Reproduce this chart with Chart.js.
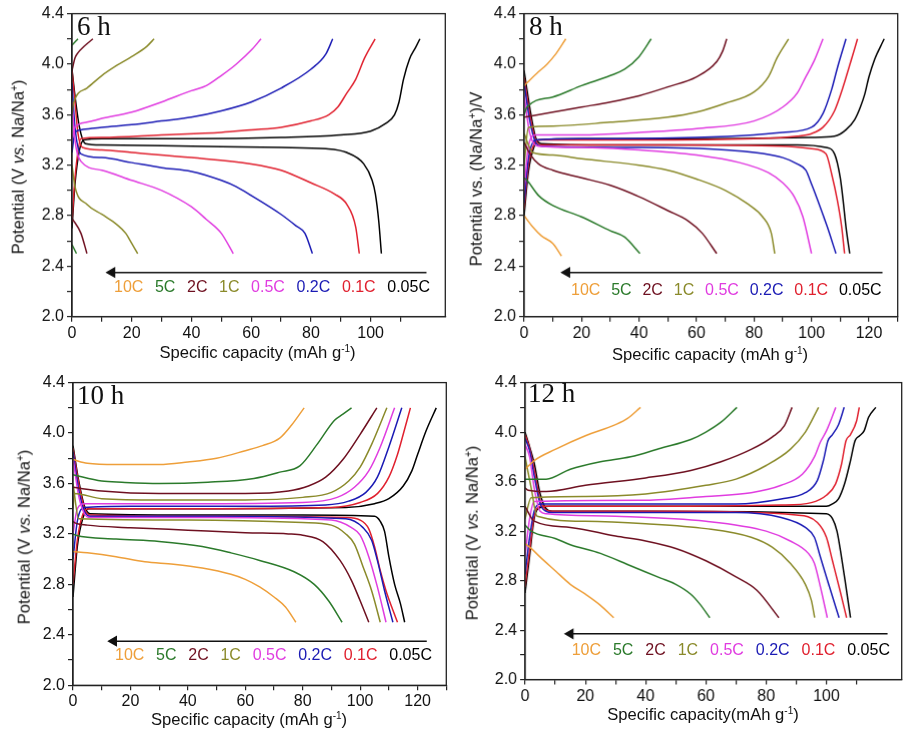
<!DOCTYPE html>
<html><head><meta charset="utf-8">
<script src="https://cdn.jsdelivr.net/npm/chart.js@4.4.1/dist/chart.umd.min.js"></script>
<style>
body{margin:0;background:#fff;width:909px;height:737px;position:relative;overflow:hidden;font-family:'Liberation Sans',Arial,sans-serif;color:#111;}
.box{position:absolute;}
.lbl{position:absolute;font-family:'Liberation Serif','Times New Roman',serif;font-size:27px;line-height:1;color:#111;white-space:nowrap;}
.xt,.yt{position:absolute;font-size:16.6px;line-height:1;white-space:nowrap;color:#111;}
.xt{transform:translate(-50%,-50%);}
.yt{transform:translate(-50%,-50%) rotate(-90deg);}
.leg{position:absolute;display:flex;justify-content:space-between;font-size:16px;line-height:1;transform:translateY(-50%);white-space:nowrap;}
sup{font-size:10px;line-height:0;vertical-align:0.6em;}
</style></head>
<body>
<script>
// ---------------- categories / styles ----------------
const rates = ['10C','5C','2C','1C','0.5C','0.2C','0.1C','0.05C'];
const rateColors = ['#EE9F3A','#2B7A2B','#6E1020','#8A8A2A','#E03CE0','#1A1AB4','#E0202E','#000000'];
const yTicks = [2.0,2.4,2.8,3.2,3.6,4.0,4.4];
const xTicks = [0,20,40,60,80,100,120];

// ---------------- 6 h : charge [capacity, potential] ----------------
const h6c_10C = [];
const h6c_5C = [[0,4.15],[2,4.2]];
const h6c_2C = [[0,3.95],[1,4.05],[2,4.09],[4,4.14],[7,4.2]];
const h6c_1C = [[0,3.6],[0.5,3.69],[5,3.81],[10,3.91],[15,3.99],[20,4.06],[25,4.14],[27.5,4.2]];
const h6c_05C = [[0,3.4],[1,3.5],[5,3.54],[10,3.57],[20,3.62],[30,3.70],[40,3.79],[45,3.83],[50,3.91],[55,4.0],[60,4.11],[63.3,4.2]];
const h6c_02C = [[0,3.3],[1,3.46],[3,3.48],[10,3.50],[20,3.52],[30,3.55],[40,3.58],[50,3.63],[60,3.70],[70,3.81],[80,3.96],[85,4.08],[87.3,4.2]];
const h6c_01C = [[0,2.75],[1,3.1],[3,3.41],[10,3.42],[30,3.44],[50,3.46],[60,3.48],[70,3.50],[80,3.55],[86,3.6],[89,3.66],[92,3.77],[95,3.88],[98,4.05],[101.5,4.2]];
const h6c_005C = [[0,2.7],[1,3.05],[2.5,3.32],[4,3.40],[10,3.41],[40,3.41],[70,3.42],[90,3.44],[100,3.47],[105,3.53],[108,3.60],[109.5,3.70],[111,3.88],[113,4.04],[115,4.13],[116.5,4.2]];
// 6 h : discharge
const h6d_10C = [];
const h6d_5C = [[0,2.57],[1.5,2.5]];
const h6d_2C = [[0,2.78],[3,2.66],[5,2.5]];
const h6d_1C = [[0,3.2],[1,3.03],[5,2.89],[10,2.81],[15,2.73],[18,2.66],[20,2.58],[22,2.5]];
const h6d_05C = [[0,3.7],[1,3.4],[3,3.23],[10,3.16],[20,3.08],[30,3.0],[40,2.87],[45,2.77],[50,2.66],[54,2.5]];
const h6d_02C = [[0,3.85],[1,3.5],[3,3.29],[10,3.26],[20,3.22],[30,3.18],[40,3.15],[50,3.08],[55,3.03],[60,2.96],[70,2.81],[75,2.72],[78,2.66],[80.5,2.5]];
const h6d_01C = [[0,3.95],[1,3.7],[2,3.45],[3.5,3.34],[10,3.32],[20,3.30],[40,3.26],[60,3.21],[70,3.16],[80,3.06],[88,2.97],[92,2.89],[95,2.71],[96.2,2.5]];
const h6d_005C = [[0,3.96],[1,3.75],[2.5,3.5],[4.5,3.37],[10,3.36],[40,3.35],[70,3.34],[85,3.33],[92,3.30],[97.7,3.21],[100.5,3.08],[101.6,2.97],[102.7,2.76],[103.6,2.5]];

// ---------------- 8 h ----------------
const h8c_10C = [[0,3.83],[5,3.94],[8,4.0],[11,4.08],[14.5,4.2]];
const h8c_5C = [[0,3.6],[1,3.66],[10,3.74],[20,3.83],[30,3.91],[35,3.96],[40,4.06],[44.2,4.2]];
const h8c_2C = [[0,3.58],[10,3.62],[20,3.66],[30,3.70],[40,3.75],[50,3.82],[60,3.9],[67,4.02],[69,4.1],[70.5,4.2]];
const h8c_1C = [[0,3.2],[1.5,3.5],[10,3.51],[30,3.54],[50,3.58],[60,3.62],[70,3.69],[80,3.78],[85,3.9],[88,4.05],[92,4.2]];
const h8c_05C = [[0,3.0],[1.5,3.35],[4,3.44],[20,3.44],[40,3.46],[60,3.49],[80,3.55],[90,3.66],[95,3.77],[98,3.9],[101,4.03],[104,4.2]];
const h8c_02C = [[0,2.9],[1.5,3.25],[4,3.40],[20,3.41],[60,3.42],[80,3.44],[90,3.46],[100,3.5],[104,3.61],[107,3.8],[109,3.97],[112,4.2]];
const h8c_01C = [[0,2.85],[1.5,3.2],[3.5,3.37],[5,3.40],[40,3.40],[80,3.41],[95,3.43],[100,3.45],[104,3.5],[108,3.63],[111,3.82],[113,3.97],[116,4.2]];
const h8c_005C = [[0,2.8],[1.5,3.15],[3.5,3.35],[5,3.40],[20,3.41],[60,3.41],[100,3.42],[108,3.43],[112,3.48],[115,3.56],[117,3.66],[118.5,3.76],[120,3.9],[122,4.04],[124,4.14],[125.3,4.2]];
const h8d_10C = [[0,2.8],[3,2.71],[6,2.64],[10,2.58],[13,2.48]];
const h8d_5C = [[0,3.1],[1,3.08],[5,2.96],[10,2.88],[20,2.79],[30,2.68],[35,2.63],[40.3,2.5]];
const h8d_2C = [[0,3.38],[2,3.29],[5,3.21],[10,3.16],[20,3.10],[30,3.04],[40,2.95],[50,2.84],[57,2.76],[62,2.66],[67,2.5]];
const h8d_1C = [[0,3.45],[3,3.30],[10,3.28],[20,3.25],[40,3.20],[50,3.16],[60,3.09],[70,3.0],[78,2.89],[83,2.79],[86,2.66],[87.2,2.5]];
const h8d_05C = [[0,3.75],[2,3.45],[5,3.35],[20,3.34],[40,3.32],[60,3.28],[75,3.22],[85,3.14],[90,3.06],[94,2.95],[97,2.79],[100,2.5]];
const h8d_02C = [[0,3.85],[2,3.55],[4,3.38],[6,3.35],[40,3.34],[70,3.32],[90,3.26],[95,3.21],[98,3.16],[100,3.05],[103,2.87],[105.5,2.71],[108.5,2.5]];
const h8d_01C = [[0,3.9],[2,3.6],[4,3.4],[6,3.36],[50,3.36],[90,3.35],[100,3.33],[105,3.29],[107,3.13],[109,2.92],[110.5,2.71],[111.5,2.5]];
const h8d_005C = [[0,3.95],[2,3.65],[4,3.42],[6,3.37],[30,3.36],[95,3.36],[105,3.34],[108,3.29],[110,3.10],[111,2.92],[112,2.71],[113.3,2.5]];

// ---------------- 10 h ----------------
const h10c_10C = [[0,3.79],[5,3.76],[15,3.75],[30,3.75],[40,3.77],[50,3.80],[60,3.86],[66,3.9],[72,3.96],[76,4.06],[80.5,4.2]];
const h10c_5C = [[0,3.67],[10,3.62],[17,3.61],[30,3.60],[47,3.61],[63,3.64],[72,3.69],[79,3.74],[85,3.91],[91,4.10],[94,4.15],[97,4.2]];
const h10c_2C = [[0,3.57],[10,3.54],[30,3.52],[60,3.52],[75,3.54],[82,3.58],[88,3.65],[94,3.79],[100,3.99],[105.8,4.2]];
const h10c_1C = [[0,3.4],[0.5,3.52],[10,3.48],[30,3.47],[60,3.47],[80,3.49],[90,3.53],[96,3.62],[100,3.73],[104,3.91],[109.3,4.2]];
const h10c_05C = [[0,3.2],[1.5,3.4],[4,3.44],[40,3.44],[80,3.45],[92,3.49],[98,3.57],[103,3.70],[107,3.89],[112,4.2]];
const h10c_02C = [[0,3.0],[1.5,3.3],[4,3.41],[20,3.42],[60,3.42],[88,3.43],[96,3.46],[102,3.53],[106,3.65],[110,3.89],[114.5,4.2]];
const h10c_01C = [[0,2.8],[1.5,3.15],[3.5,3.36],[5.5,3.40],[40,3.40],[90,3.41],[100,3.45],[106,3.52],[110,3.65],[113,3.83],[115,3.99],[117.5,4.2]];
const h10c_005C = [[0,2.7],[1.5,3.1],[3.5,3.33],[5.5,3.40],[30,3.40],[95,3.41],[105,3.44],[110,3.48],[115,3.58],[118,3.7],[120,3.83],[123,4.02],[126.5,4.2]];
const h10d_10C = [[0,3.06],[5,3.05],[15,3.02],[25,2.98],[35,2.96],[45,2.93],[55,2.88],[60,2.84],[65,2.78],[70,2.70],[74,2.62],[77.6,2.5]];
const h10d_5C = [[0,3.2],[1,3.19],[15,3.16],[30,3.14],[45,3.10],[55,3.05],[65,2.99],[77,2.90],[84,2.80],[89,2.67],[93.7,2.5]];
const h10d_2C = [[0,3.3],[0.5,3.29],[5,3.27],[20,3.25],[40,3.23],[60,3.21],[75,3.20],[80,3.19],[87,3.14],[93,2.99],[97,2.83],[100,2.67],[103,2.5]];
const h10d_1C = [[0,3.6],[2,3.32],[40,3.31],[80,3.29],[90,3.27],[95,3.20],[98,3.12],[101,2.94],[104,2.75],[107,2.5]];
const h10d_05C = [[0,3.8],[2,3.5],[4,3.36],[6,3.33],[50,3.33],[90,3.31],[97,3.25],[100,3.19],[103,3.02],[106,2.78],[109,2.5]];
const h10d_02C = [[0,3.85],[2,3.55],[4,3.38],[6,3.34],[50,3.34],[95,3.32],[101,3.25],[104,3.15],[106,2.99],[108.5,2.75],[111.4,2.5]];
const h10d_01C = [[0,3.88],[2,3.6],[4,3.4],[6,3.35],[50,3.34],[95,3.33],[100,3.31],[103,3.24],[105,3.10],[107,2.91],[109,2.75],[111,2.62],[113,2.5]];
const h10d_005C = [[0,3.9],[2,3.62],[4,3.42],[6,3.36],[40,3.35],[80,3.35],[105,3.34],[107,3.30],[108.5,3.22],[110,3.02],[112,2.80],[114,2.65],[115.5,2.5]];

// ---------------- 12 h ----------------
const h12c_10C = [[0,3.7],[3,3.77],[10,3.86],[20,3.97],[30,4.06],[34,4.11],[38.3,4.2]];
const h12c_5C = [[0,3.62],[7,3.62],[15,3.70],[25,3.76],[35,3.80],[45,3.87],[55,3.94],[60,4.0],[65,4.08],[70.3,4.2]];
const h12c_2C = [[0,3.55],[1,3.53],[7,3.52],[20,3.57],[40,3.63],[55,3.69],[65,3.76],[75,3.86],[82,3.96],[86,4.05],[88.6,4.2]];
const h12c_1C = [[0,3.3],[2,3.47],[20,3.48],[40,3.50],[60,3.57],[70,3.62],[80,3.73],[88,3.86],[93,4.0],[97.4,4.2]];
const h12c_05C = [[0,3.0],[1.5,3.3],[3,3.44],[40,3.45],[60,3.48],[75,3.51],[85,3.57],[92,3.66],[96,3.80],[98,3.92],[100,4.01],[103.1,4.2]];
const h12c_02C = [[0,2.85],[1.5,3.15],[3,3.36],[5,3.42],[40,3.42],[70,3.42],[85,3.46],[93,3.51],[97,3.61],[99,3.77],[100.5,3.93],[102,3.98],[104,4.06],[105.9,4.2]];
const h12c_01C = [[0,2.75],[1.5,3.05],[3,3.32],[5,3.40],[40,3.40],[85,3.41],[95,3.43],[100,3.49],[103,3.58],[105,3.74],[106.5,3.93],[108,3.98],[110,4.09],[110.9,4.2]];
const h12c_005C = [[0,2.7],[1.5,3.0],[3,3.3],[5,3.39],[8,3.40],[40,3.40],[100,3.40],[102,3.42],[104,3.46],[106,3.58],[108,3.77],[109.5,3.93],[111,3.97],[112.5,4.01],[114,4.12],[116.4,4.2]];
const h12d_10C = [[0,3.1],[2,3.06],[5,2.99],[10,2.88],[15,2.77],[20,2.69],[25,2.60],[29.4,2.5]];
const h12d_5C = [[0,3.25],[2,3.20],[10,3.14],[15,3.09],[25,3.02],[35,2.92],[45,2.82],[50,2.77],[55,2.69],[58,2.61],[61.3,2.5]];
const h12d_2C = [[0,3.4],[3,3.28],[15,3.23],[30,3.16],[40,3.12],[50,3.06],[60,2.96],[70,2.83],[77,2.72],[84.2,2.5]];
const h12d_1C = [[0,3.8],[2,3.55],[4,3.32],[20,3.28],[40,3.26],[60,3.22],[75,3.15],[82,3.07],[88,2.94],[93,2.77],[95,2.64],[96.1,2.5]];
const h12d_05C = [[0,3.9],[1.5,3.8],[3,3.55],[5,3.36],[7,3.34],[30,3.32],[60,3.28],[80,3.20],[88,3.12],[94,3.02],[96,2.94],[98,2.75],[100.3,2.5]];
const h12d_02C = [[0,3.95],[1.5,3.85],[3,3.65],[5,3.42],[7,3.36],[9,3.35],[70,3.35],[85,3.31],[93,3.23],[96,3.15],[98,2.99],[101,2.75],[104.2,2.5]];
const h12d_01C = [[0,3.98],[1.5,3.87],[3,3.7],[5,3.45],[7,3.37],[9,3.36],[50,3.36],[90,3.33],[97,3.27],[100,3.15],[102,2.96],[104.5,2.72],[106.7,2.5]];
const h12d_005C = [[0,4.0],[1.5,3.88],[3,3.75],[5,3.5],[7,3.38],[9,3.36],[40,3.36],[100,3.34],[102,3.30],[103.5,3.20],[105,2.99],[106.5,2.75],[108,2.5]];

// ---------------- arrows (data coords) ----------------
const arrow6 = [[118.7,2.35],[13.4,2.35]];
const arrow8 = [[124.7,2.35],[14.9,2.35]];
const arrow10 = [[123.2,2.35],[14.2,2.35]];
const arrow12 = [[120.3,2.37],[15,2.37]];

const panels = [
  {id:'6 h', area:{l:71.7,t:13.3,r:445,b:316}, xMax:125,
   charge:[h6c_10C,h6c_5C,h6c_2C,h6c_1C,h6c_05C,h6c_02C,h6c_01C,h6c_005C],
   discharge:[h6d_10C,h6d_5C,h6d_2C,h6d_1C,h6d_05C,h6d_02C,h6d_01C,h6d_005C], arrow:arrow6,
   ytitle:'Potential (V <i>vs.</i> Na/Na<sup>+</sup>)', yt:[19,167], xtitle:'Specific capacity (mAh g<sup>-1</sup>)', xt:[257.5,353],
   leg:[114,430,287], lbl:[77,13]},
  {id:'8 h', area:{l:524,t:13.3,r:896.7,b:316}, xMax:130,
   charge:[h8c_10C,h8c_5C,h8c_2C,h8c_1C,h8c_05C,h8c_02C,h8c_01C,h8c_005C],
   discharge:[h8d_10C,h8d_5C,h8d_2C,h8d_1C,h8d_05C,h8d_02C,h8d_01C,h8d_005C], arrow:arrow8,
   ytitle:'Potential vs. (Na/Na<sup>+</sup>)/V', yt:[476.7,179], xtitle:'Specific capacity (mAh g<sup>-1</sup>)', xt:[710,355],
   leg:[571,881.7,290], lbl:[529,13]},
  {id:'10 h', area:{l:72.7,t:381.7,r:446,b:685}, xMax:130,
   charge:[h10c_10C,h10c_5C,h10c_2C,h10c_1C,h10c_05C,h10c_02C,h10c_01C,h10c_005C],
   discharge:[h10d_10C,h10d_5C,h10d_2C,h10d_1C,h10d_05C,h10d_02C,h10d_01C,h10d_005C], arrow:arrow10,
   ytitle:'Potential (V <i>vs.</i> Na/Na<sup>+</sup>)', yt:[25,536.7], xtitle:'Specific capacity (mAh g<sup>-1</sup>)', xt:[249,720],
   leg:[115,432,655], lbl:[77,382]},
  {id:'12 h', area:{l:525,t:381.7,r:900.7,b:679.3}, xMax:125,
   charge:[h12c_10C,h12c_5C,h12c_2C,h12c_1C,h12c_05C,h12c_02C,h12c_01C,h12c_005C],
   discharge:[h12d_10C,h12d_5C,h12d_2C,h12d_1C,h12d_05C,h12d_02C,h12d_01C,h12d_005C], arrow:arrow12,
   ytitle:'Potential (V <i>vs.</i> Na/Na<sup>+</sup>)', yt:[473.3,533], xtitle:'Specific capacity(mAh g<sup>-1</sup>)', xt:[703,715],
   leg:[571.7,890,650], lbl:[528,380]}
];

const AXW = 50, AXH = 30, PT = 12, PR = 8;
const frame = {
  id:'frame',
  afterDraw(chart){
    const {ctx, chartArea:a} = chart;
    ctx.save(); ctx.strokeStyle='#222'; ctx.lineWidth=1.3;
    ctx.strokeRect(a.left, a.top, a.right-a.left, a.bottom-a.top);
    ctx.restore();
  }
};
const toPts = arr => arr.map(p => ({x:p[0], y:p[1]}));

panels.forEach(p => {
  const a = p.area;
  const div = document.createElement('div');
  div.className = 'box';
  div.style.left = (a.l - AXW) + 'px';
  div.style.top = (a.t - PT) + 'px';
  div.style.width = (a.r - a.l + AXW + PR) + 'px';
  div.style.height = (a.b - a.t + PT + AXH) + 'px';
  const cv = document.createElement('canvas');
  div.appendChild(cv);
  document.body.appendChild(div);

  const datasets = [];
  rates.forEach((r,i) => {
    [['charge',p.charge[i]],['discharge',p.discharge[i]]].forEach(([kind,arr]) => {
      if (!arr.length) return;
      datasets.push({label:r+' '+kind, data:toPts(arr), borderColor:rateColors[i], backgroundColor:rateColors[i],
        borderWidth:1.5, pointRadius:0, showLine:true, cubicInterpolationMode:'monotone'});
    });
  });
  datasets.push({label:'arrow', data:toPts(p.arrow), borderColor:'#111', backgroundColor:'#111', borderWidth:1.5,
    showLine:true, pointRadius:[0,5], pointStyle:'triangle', rotation:-90, pointHoverRadius:0});

  new Chart(cv, {
    type:'scatter',
    data:{datasets},
    plugins:[frame],
    options:{
      responsive:true, maintainAspectRatio:false, animation:false, events:[],
      layout:{padding:{top:PT, right:PR, left:0, bottom:0}},
      plugins:{legend:{display:false}, tooltip:{enabled:false}},
      scales:{
        x:{type:'linear', min:0, max:p.xMax,
          afterBuildTicks:s => { s.ticks = s.ticks.filter(t => Math.abs(t.value/10 - Math.round(t.value/10))<1e-6); },
          afterFit:s => { s.height = AXH; },
          ticks:{stepSize:10, autoSkip:false, maxRotation:0, padding:2, color:'#111', font:{family:"'Liberation Sans', Arial", size:16},
            callback:v => xTicks.includes(Math.round(v)) && Math.abs(v-Math.round(v))<1e-6 ? String(Math.round(v)) : ''},
          grid:{drawOnChartArea:false, tickLength:5, color:'#222', lineWidth:1.2},
          border:{display:true, color:'#222', width:1.3}},
        y:{type:'linear', min:2.0, max:4.4,
          afterFit:s => { s.width = AXW; },
          ticks:{stepSize:0.2, autoSkip:false, padding:3, color:'#111', font:{family:"'Liberation Sans', Arial", size:16},
            callback:v => { const k = Math.round(v*10)/10; return yTicks.some(t => Math.abs(t-v)<1e-6) ? k.toFixed(1) : ''; }},
          grid:{drawOnChartArea:false, tickLength:5, color:'#222', lineWidth:1.2},
          border:{display:true, color:'#222', width:1.3}}
      }
    }
  });

  const lbl = document.createElement('div');
  lbl.className='lbl'; lbl.textContent = p.id;
  lbl.style.left = p.lbl[0]+'px'; lbl.style.top = p.lbl[1]+'px';
  document.body.appendChild(lbl);

  const yt = document.createElement('div');
  yt.className='yt'; yt.innerHTML = p.ytitle;
  yt.style.left = p.yt[0]+'px'; yt.style.top = p.yt[1]+'px';
  document.body.appendChild(yt);

  const xt = document.createElement('div');
  xt.className='xt'; xt.innerHTML = p.xtitle;
  xt.style.left = p.xt[0]+'px'; xt.style.top = p.xt[1]+'px';
  document.body.appendChild(xt);

  const leg = document.createElement('div');
  leg.className='leg';
  leg.style.left = p.leg[0]+'px'; leg.style.width = (p.leg[1]-p.leg[0])+'px'; leg.style.top = p.leg[2]+'px';
  rates.forEach((r,i) => { const s = document.createElement('span'); s.textContent = r; s.style.color = rateColors[i]; leg.appendChild(s); });
  document.body.appendChild(leg);
});
</script>
</body></html>
